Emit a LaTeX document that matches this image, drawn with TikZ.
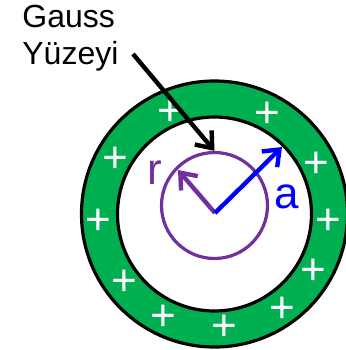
\documentclass[tikz,border=0pt]{standalone}
\usepackage{fontspec}
\setmainfont{Liberation Sans}
\usetikzlibrary{arrows.meta}
\definecolor{ringgreen}{RGB}{0,176,80}
\definecolor{surfpurple}{RGB}{112,48,160}

\begin{document}
\begin{tikzpicture}[x=0.5pt, y=0.5pt,
  ring/.style={draw=black, line width=1.6pt},
  plus/.style={text=white, font=\fontsize{22}{22}\selectfont, inner sep=0pt},
  arrow/.style={-{Straight Barb[length=7pt, width=11pt]}, line width=2.2pt},
  lbl/.style={font=\fontsize{22}{22}\selectfont, inner sep=0pt}
]
  \useasboundingbox (0,0) rectangle (346,350);
  \coordinate (o) at (214.5,136);
  \coordinate (org) at (215,137);

  % charged shell
  \fill[ringgreen, even odd rule] (o) circle (133) (o) circle (97);
  \draw[ring] (o) circle (133) (o) circle (97);
  \foreach \px/\py [count=\i] in {170/237, 267/235, 115/190, 316/185, 98/128, 328/128,
                                  124/67, 313/78, 163/32, 282/40, 224/22}
    \node[plus] (p\i) at (\px,\py) {+};

  % gaussian surface
  \node[circle, draw=surfpurple, line width=1.6pt, minimum size=53pt, inner sep=0pt] (surf) at (214.5,144.5) {};
  \coordinate (rtip) at (178,180);
  \coordinate (atip) at (282,203);
  \draw[arrow, surfpurple] (org) -- (rtip);
  \draw[arrow, blue] (org) -- (atip);
  \node[lbl, text=surfpurple] (r) at (155,177) {r};
  \node[lbl, text=blue] (a) at (287,153) {a};

  % label
  \node[font=\fontsize{16}{18.5}\selectfont, align=left, anchor=north west, inner sep=0pt] (gauss) at (22,345) {Gauss\\Yüzeyi};
  \coordinate (tail) at (133,296);
  \draw[arrow, black] (tail) -- (surf.north);
\end{tikzpicture}
\end{document}
